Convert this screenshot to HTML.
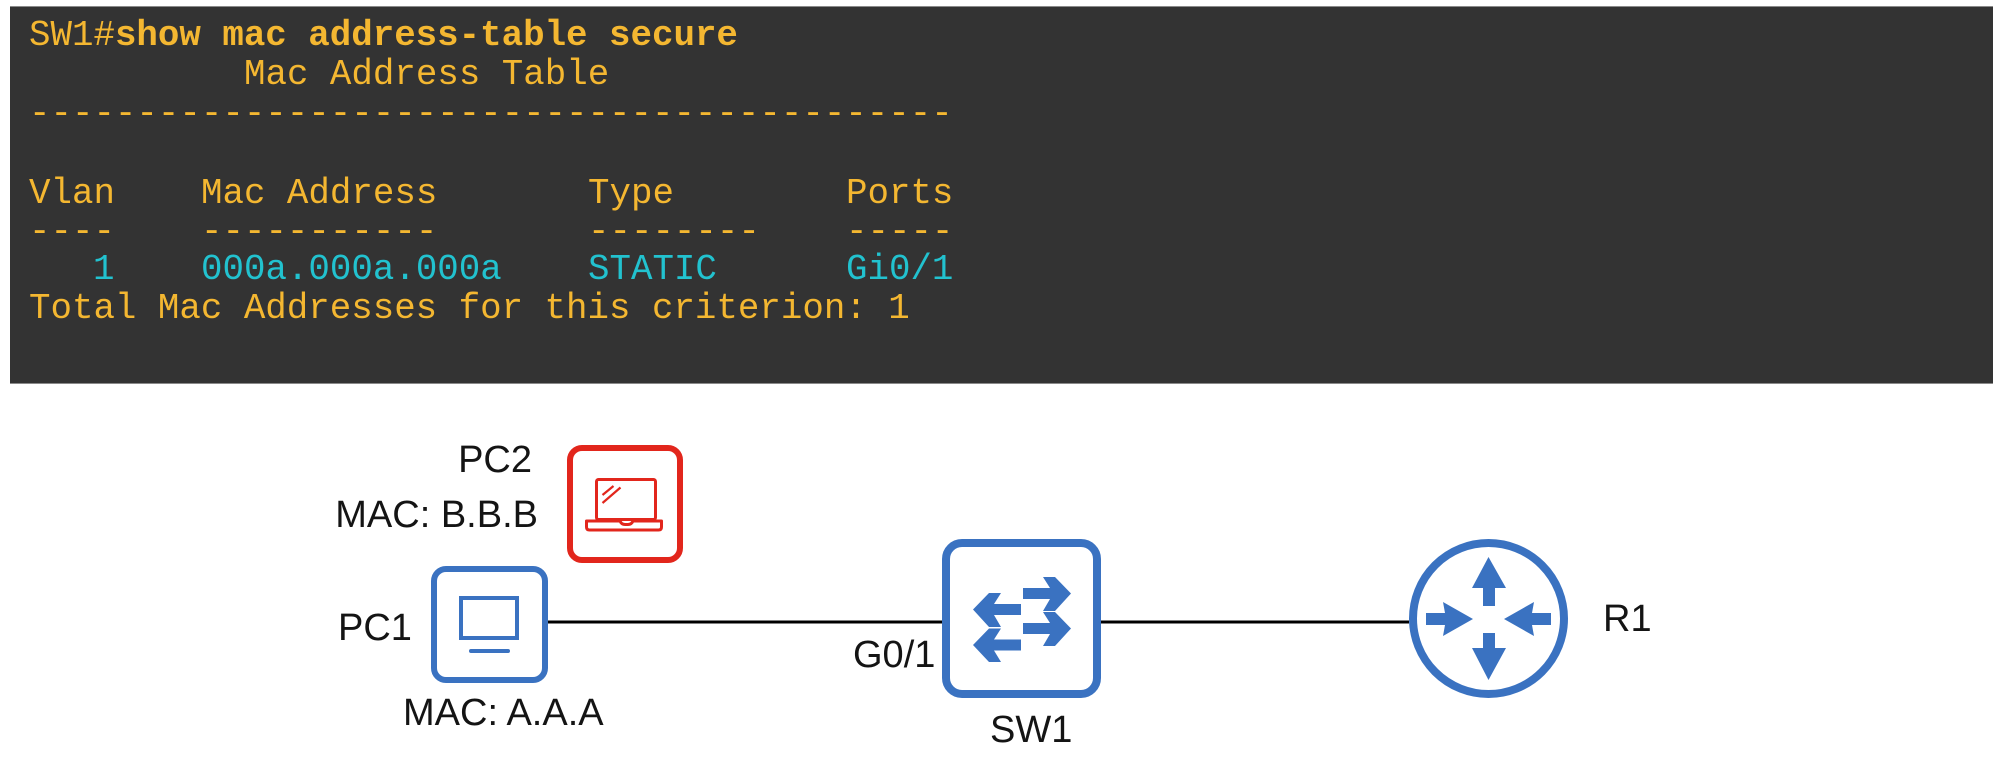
<!DOCTYPE html>
<html>
<head>
<meta charset="utf-8">
<style>
  html,body{margin:0;padding:0;background:#ffffff;}
  body{width:2000px;height:776px;overflow:hidden;position:relative;}
  svg{position:absolute;left:0;top:0;}
  .mono{font-family:"Liberation Mono","DejaVu Sans Mono",monospace;font-size:35.8px;white-space:pre;}
  .y{fill:#f4b731;}
  .c{fill:#22c2cf;}
  .lbl{font-family:"Liberation Sans",Arial,sans-serif;font-size:38px;fill:#141414;}
</style>
</head>
<body>
<svg width="2000" height="776" viewBox="0 0 2000 776" xmlns="http://www.w3.org/2000/svg">
  <!-- terminal -->
  <rect x="10" y="6" width="1983" height="378" fill="#333333"/>
  <line x1="10" y1="6.5" x2="1993" y2="6.5" stroke="#8a8a8a" stroke-width="1"/>
  <line x1="10" y1="383.5" x2="1993" y2="383.5" stroke="#8a8a8a" stroke-width="1"/>

  <text class="mono y" x="29" y="45">SW1#<tspan font-weight="bold">show mac address-table secure</tspan></text>
  <text class="mono y" x="244" y="84">Mac Address Table</text>
  <text class="mono y" x="29" y="123">-------------------------------------------</text>

  <text class="mono y" x="29" y="203">Vlan</text>
  <text class="mono y" x="201" y="203">Mac Address</text>
  <text class="mono y" x="588" y="203">Type</text>
  <text class="mono y" x="846" y="203">Ports</text>

  <text class="mono y" x="29" y="241">----</text>
  <text class="mono y" x="201" y="241">-----------</text>
  <text class="mono y" x="588" y="241">--------</text>
  <text class="mono y" x="846" y="241">-----</text>

  <text class="mono c" x="93" y="279">1</text>
  <text class="mono c" x="201" y="279">000a.000a.000a</text>
  <text class="mono c" x="588" y="279">STATIC</text>
  <text class="mono c" x="846" y="279">Gi0/1</text>

  <text class="mono y" x="29" y="318">Total Mac Addresses for this criterion: 1</text>

  <!-- links -->
  <line x1="548" y1="622" x2="942" y2="622" stroke="#000" stroke-width="3"/>
  <line x1="1101" y1="622" x2="1409" y2="622" stroke="#000" stroke-width="3"/>

  <!-- PC2 (red laptop) -->
  <rect x="570" y="448" width="110" height="112" rx="12" ry="12" fill="#fff" stroke="#e2261c" stroke-width="6"/>
  <rect x="596.5" y="479.5" width="59" height="40" rx="2" fill="none" stroke="#e2261c" stroke-width="3"/>
  <path d="M586.5,521 H620 Q621.5,524.5 625,524.5 H628 Q631.5,524.5 633,521 H661.5 V527 Q661.5,530 658.5,530 H589.5 Q586.5,530 586.5,527 Z" fill="none" stroke="#e2261c" stroke-width="3" stroke-linejoin="round"/>
  <line x1="602.5" y1="495" x2="613.5" y2="486" stroke="#e2261c" stroke-width="2.2"/>
  <line x1="602.5" y1="503" x2="620.5" y2="487.5" stroke="#e2261c" stroke-width="2.2"/>

  <!-- PC1 (blue desktop) -->
  <rect x="434" y="569" width="111" height="111" rx="12" ry="12" fill="#fff" stroke="#3a72c1" stroke-width="6"/>
  <rect x="461" y="598" width="56" height="40" fill="none" stroke="#3a72c1" stroke-width="4"/>
  <line x1="471" y1="651" x2="508" y2="651" stroke="#3a72c1" stroke-width="4" stroke-linecap="round"/>

  <!-- SW1 -->
  <rect x="946" y="543" width="151" height="151" rx="16" ry="16" fill="#fff" stroke="#3a72c1" stroke-width="8"/>
  <g fill="#3a72c1">
    <!-- right arrows -->
    <polygon points="1023,588 1050,588 1043,577 1055,577 1071,593.5 1055,611 1043,611 1050,599 1023,599"/>
    <polygon points="1023,623 1050,623 1043,612 1055,612 1071,628.5 1055,646 1043,646 1050,634 1023,634"/>
    <!-- left arrows (mirrored) -->
    <polygon points="1021,604 994,604 1001,593 989,593 973,609.5 989,627 1001,627 994,615 1021,615"/>
    <polygon points="1021,639.5 994,639.5 1001,628.5 989,628.5 973,645 989,662 1001,662 994,650.5 1021,650.5"/>
  </g>

  <!-- R1 router -->
  <circle cx="1488.5" cy="618.5" r="75.5" fill="#fff" stroke="#3a72c1" stroke-width="8"/>
  <g fill="#3a72c1">
    <!-- up -->
    <polygon points="1483,606 1483,588 1472,588 1488.5,557 1506,588 1495,588 1495,606"/>
    <!-- down -->
    <polygon points="1483,633 1483,648 1472,648 1488.5,680 1506,648 1495,648 1495,633"/>
    <!-- from left pointing right -->
    <polygon points="1426,613 1445,613 1443,602 1473,619 1443,636 1445,625 1426,625"/>
    <!-- from right pointing left -->
    <polygon points="1551,613 1532,613 1534,602 1504,619 1534,636 1532,625 1551,625"/>
  </g>

  <!-- labels -->
  <text class="lbl" x="532" y="472" text-anchor="end">PC2</text>
  <text class="lbl" x="538" y="527" text-anchor="end">MAC: B.B.B</text>
  <text class="lbl" x="338" y="640">PC1</text>
  <text class="lbl" x="403" y="725">MAC: A.A.A</text>
  <text class="lbl" x="853" y="667">G0/1</text>
  <text class="lbl" x="990" y="742">SW1</text>
  <text class="lbl" x="1603" y="631">R1</text>
</svg>
</body>
</html>
